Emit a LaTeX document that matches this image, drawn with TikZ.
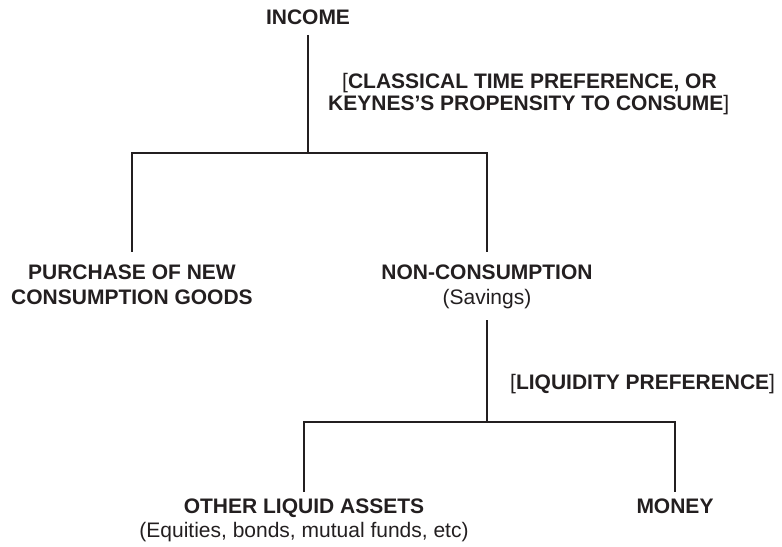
\documentclass[tikz,border=0pt]{standalone}
\usepackage{fontspec}
\setmainfont{Liberation Sans}
\definecolor{ink}{HTML}{231F20}
\begin{document}
\begin{tikzpicture}[x=1bp,y=-1bp,
  lbl/.style={inner sep=0pt, anchor=base, text=ink, font=\fontsize{21bp}{25bp}\selectfont\bfseries},
  sub/.style={inner sep=0pt, anchor=base, text=ink, font=\fontsize{21bp}{25bp}\selectfont},
  link/.style={draw=ink, line width=1.1bp}]
\useasboundingbox (0,0) rectangle (782,547);
% texts
\node[lbl] (income) at (308,25) {INCOME};
\node[lbl, anchor=base west] (why1) at (342,89) {{\mdseries[}CLASSICAL TIME PREFERENCE, OR};
\node[lbl, anchor=base west] (why2) at (328,111) {KEYNES’S PROPENSITY TO CONSUME{\mdseries]}};
\node[lbl] (purch1) at (132,280) {PURCHASE OF NEW};
\node[lbl] (purch2) at (132,305) {CONSUMPTION GOODS};
\node[lbl] (noncons) at (487,280) {NON-CONSUMPTION};
\node[sub] (savings) at (487,305) {(Savings)};
\node[lbl, anchor=base west] (liq) at (510,389) {{\mdseries[}LIQUIDITY PREFERENCE{\mdseries]}};
\node[lbl] (other) at (304,513) {OTHER LIQUID ASSETS};
\node[sub] (otherx) at (304,537) {(Equities, bonds, mutual funds, etc)};
\node[lbl] (money) at (675,513) {MONEY};
% connector points
\coordinate (a0) at (308,35);
\coordinate (a1) at (308,153);
\coordinate (b1) at (132,153);
\coordinate (b2) at (487,153);
\coordinate (b1e) at (132,252);
\coordinate (b2e) at (487,252);
\coordinate (c0) at (487,320);
\coordinate (c1) at (487,422);
\coordinate (d1) at (304,422);
\coordinate (d2) at (675,422);
\coordinate (d1e) at (304,492);
\coordinate (d2e) at (675,492);
% connectors
\draw[link] (a0) -- (a1);
\draw[link] (b1e) -- (b1) -- (b2) -- (b2e);
\draw[link] (c0) -- (c1);
\draw[link] (d1e) -- (d1) -- (d2) -- (d2e);
\end{tikzpicture}
\end{document}
